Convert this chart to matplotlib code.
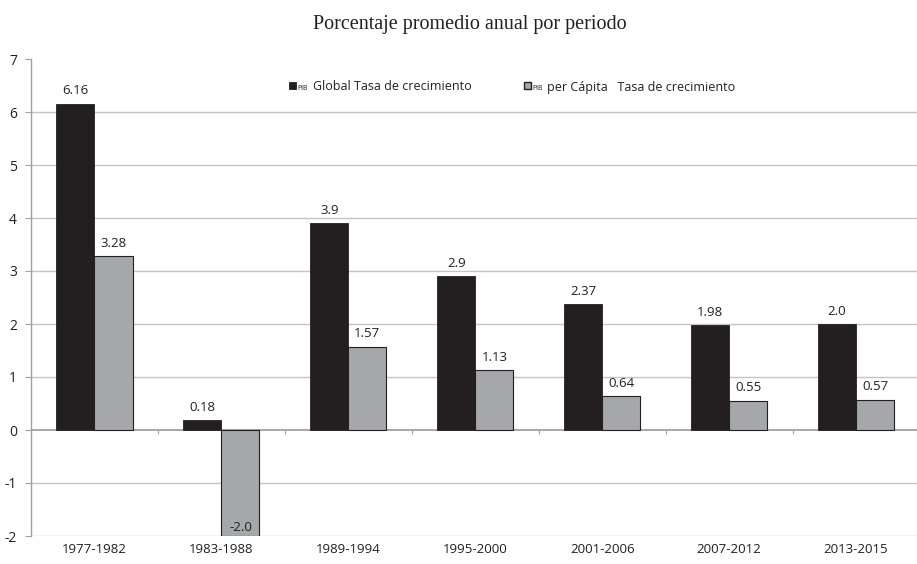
import numpy as np
import matplotlib
matplotlib.use('Agg')
import matplotlib.pyplot as plt
from matplotlib.patches import Rectangle

plt.rcParams['axes.unicode_minus'] = False

# Datos
periodos = ['1977-1982', '1983-1988', '1989-1994', '1995-2000', '2001-2006', '2007-2012', '2013-2015']
pib_global = [6.16, 0.18, 3.9, 2.9, 2.37, 1.98, 2.0]
pib_per_capita = [3.28, -2.0, 1.57, 1.13, 0.64, 0.55, 0.57]
etiquetas_global = ['6.16', '0.18', '3.9', '2.9', '2.37', '1.98', '2.0']
etiquetas_capita = ['3.28', '-2.0', '1.57', '1.13', '0.64', '0.55', '0.57']

sans = 'Open Sans'
color_negro = '#231f20'
color_gris = '#a6a7ab'
color_rejilla = '#c4c4c4'

fig = plt.figure(figsize=(9.17, 5.64), dpi=100)
ax = fig.add_axes([31 / 917, 28 / 564, 886 / 917, 477 / 564])

x = np.arange(len(periodos))
ancho = 0.3

ax.bar(x - ancho / 2, pib_global, ancho, color=color_negro, edgecolor=color_negro, linewidth=0.6, zorder=3)
ax.bar(x + ancho / 2, pib_per_capita, ancho, color=color_gris, edgecolor=color_negro, linewidth=0.8, zorder=3)

# Etiquetas de valores
for i in range(len(periodos)):
    ax.text(x[i] - ancho / 2, pib_global[i] + 0.12, etiquetas_global[i], ha='center', va='bottom',
            fontsize=9.5, family=sans, color='#231f20')
    if pib_per_capita[i] >= 0:
        ax.text(x[i] + ancho / 2, pib_per_capita[i] + 0.12, etiquetas_capita[i], ha='center', va='bottom',
                fontsize=9.5, family=sans, color='#231f20')
    else:
        ax.text(x[i] + ancho / 2, pib_per_capita[i] + 0.03, etiquetas_capita[i], ha='center', va='bottom',
                fontsize=9.5, family=sans, color='#231f20')

ax.set_xlim(-0.5, len(periodos) - 0.52)
ax.set_ylim(-2, 7)

# Rejilla horizontal (sin línea en 7)
for y in range(-2, 7):
    ax.axhline(y, color=color_rejilla if y != 0 else '#a0a0a0', linewidth=1.0 if y != 0 else 1.3, zorder=1)

# marcas pequeñas entre categorías sobre la línea de cero
ax.vlines(np.arange(0.5, len(periodos) - 0.5), -0.08, 0, color='#a0a0a0', linewidth=0.8, zorder=2)

for lado in ['top', 'right', 'bottom']:
    ax.spines[lado].set_visible(False)
ax.spines['left'].set_color('#a0a0a0')
ax.spines['left'].set_linewidth(1.0)

ax.set_yticks(range(-2, 8))
ax.tick_params(axis='y', length=4, color='#a0a0a0', pad=6, labelsize=10)
ax.set_xticks(x)
ax.set_xticklabels(periodos)
ax.tick_params(axis='x', length=0, pad=5, labelsize=9.5)
for lab in ax.get_xticklabels() + ax.get_yticklabels():
    lab.set_family(sans)
    lab.set_color('#231f20')

# Título
fig.text(0.512, 0.957, 'Porcentaje promedio anual por periodo', ha='center', va='center',
         fontsize=14.5, family='Liberation Serif', color='#231f20')

# Leyenda manual
fig.patches.append(Rectangle((289 / 917, 1 - 89 / 564), 7 / 917, 7 / 564, transform=fig.transFigure,
                             facecolor=color_negro, edgecolor=color_negro, linewidth=0.6))
fig.text(297 / 917, 1 - 89 / 564, 'PIB', ha='left', va='center', fontsize=5, family=sans, color=color_negro)
fig.text(313 / 917, 1 - 87 / 564, 'Global Tasa de crecimiento', ha='left', va='center', fontsize=9,
         family=sans, color=color_negro)
fig.patches.append(Rectangle((524 / 917, 1 - 89 / 564), 7 / 917, 7 / 564, transform=fig.transFigure,
                             facecolor=color_gris, edgecolor=color_negro, linewidth=1.0))
fig.text(532 / 917, 1 - 89 / 564, 'PIB', ha='left', va='center', fontsize=5, family=sans, color=color_negro)
fig.text(547 / 917, 1 - 87 / 564, 'per Cápita   Tasa de crecimiento', ha='left', va='center', fontsize=9,
         family=sans, color=color_negro)

fig.savefig('out.png', dpi=100)
